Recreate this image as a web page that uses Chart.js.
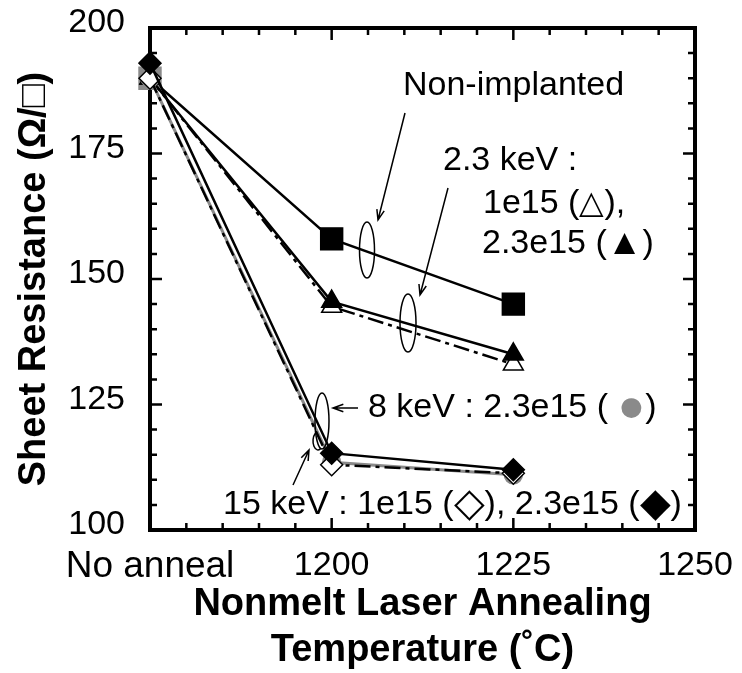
<!DOCTYPE html>
<html>
<head>
<meta charset="utf-8">
<script src="https://cdn.jsdelivr.net/npm/chart.js@4.4.1/dist/chart.umd.min.js"></script>
<style>
    body { margin: 0; background: #fff; }
    #wrap { width: 742px; height: 673px; }
</style>
</head>
<body>
<div id="wrap"><canvas id="sheet-resistance"></canvas></div>
<script>
// anneal temperatures (°C); 1175 is the "No anneal" column
const temps = [1175, 1200, 1225];
const xTicks = [1175, 1200, 1225, 1250];
const yTicks = [100, 125, 150, 175, 200];

// sheet resistance, ohm/sq
const nonImplanted = [190, 158, 145];
const kev23_1e15 = [190, 144.5, 133];
const kev23_23e15 = [190, 145.5, 135];
const kev8_23e15 = [190, 113.5, 111];
const kev15_1e15 = [190, 113, 111.3];
const kev15_23e15 = [193, 115.3, 112];

const FONT = '"Liberation Sans", Arial, Helvetica, sans-serif';

const toPoints = (values) => temps.map((t, i) => ({ x: t, y: values[i] }));

// box round the plot with inward major/minor ticks on all four sides
const frameTicks = {
    id: 'frameTicks',
    beforeDatasetsDraw(chart) {
        const { ctx, chartArea: a, scales: { x, y } } = chart;
        ctx.save();
        ctx.strokeStyle = '#000';
        ctx.lineWidth = 2.5;
        ctx.beginPath();
        for (let v = x.min; v <= x.max; v += 5) {
            const px = x.getPixelForValue(v);
            const len = (v - x.min) % 25 === 0 ? 12 : 7;
            ctx.moveTo(px, a.bottom); ctx.lineTo(px, a.bottom - len);
            ctx.moveTo(px, a.top); ctx.lineTo(px, a.top + len);
        }
        for (let v = y.min; v <= y.max; v += 5) {
            const py = y.getPixelForValue(v);
            const len = (v - y.min) % 25 === 0 ? 12 : 7;
            ctx.moveTo(a.left, py); ctx.lineTo(a.left + len, py);
            ctx.moveTo(a.right, py); ctx.lineTo(a.right - len, py);
        }
        ctx.stroke();
        ctx.lineWidth = 4;
        ctx.strokeRect(a.left, a.top, a.right - a.left, a.bottom - a.top);
        ctx.restore();
    }
};

const arrow = (ctx, x1, y1, x2, y2) => {
    const ang = Math.atan2(y2 - y1, x2 - x1);
    ctx.beginPath();
    ctx.moveTo(x1, y1);
    ctx.lineTo(x2, y2);
    ctx.moveTo(x2 - 11 * Math.cos(ang - 0.35), y2 - 11 * Math.sin(ang - 0.35));
    ctx.lineTo(x2, y2);
    ctx.lineTo(x2 - 11 * Math.cos(ang + 0.35), y2 - 11 * Math.sin(ang + 0.35));
    ctx.stroke();
};

const ellipse = (ctx, cx, cy, rx, ry, a0 = 0, a1 = Math.PI * 2) => {
    ctx.beginPath();
    ctx.ellipse(cx, cy, rx, ry, 0, a0, a1);
    ctx.stroke();
};

// text pieces drawn left to right, each with its own colour / size
const label = (ctx, x, y, parts) => {
    parts.forEach(([text, color, size]) => {
        ctx.font = (size || 34) + 'px ' + FONT;
        ctx.fillStyle = color || '#000';
        ctx.fillText(text, x, y);
        x += ctx.measureText(text).width;
    });
};

const callouts = {
    id: 'callouts',
    afterDatasetsDraw(chart) {
        const ctx = chart.ctx;
        ctx.save();
        ctx.textBaseline = 'middle';
        ctx.textAlign = 'left';
        label(ctx, 403, 86, [['Non-implanted']]);
        label(ctx, 443, 161, [['2.3 keV :']]);
        label(ctx, 483, 204, [['1e15 ('], ['\u25B3', null, 32], ['),']]);
        label(ctx, 482, 244, [['2.3e15 ('], ['\u25B2', null, 36], [')']]);
        label(ctx, 368, 408, [['8 keV : 2.3e15 ( '], ['\u25CF', '#8a8a8a', 46], [')']]);
        label(ctx, 223, 505, [['15 keV : 1e15 ('], ['\u25C7', null, 40], ['), 2.3e15 ('], ['\u25C6', null, 40], [')']]);

        ctx.strokeStyle = '#000';
        ctx.lineWidth = 1.5;
        arrow(ctx, 405, 113, 378, 220);
        arrow(ctx, 448, 188, 420, 295);
        arrow(ctx, 358, 408, 333, 408);
        arrow(ctx, 293, 485, 309, 450);
        ellipse(ctx, 367, 250, 7.5, 28);
        ellipse(ctx, 408, 323, 8, 29);
        ellipse(ctx, 322, 421, 7, 28);
        ellipse(ctx, 318, 441, 5, 9, Math.PI * 0.3, Math.PI * 1.4);
        ctx.restore();
    }
};

const series = (data, opts) => Object.assign({
    data: toPoints(data),
    borderColor: '#000',
    borderWidth: 2.5,
    pointBorderColor: '#000',
    pointBorderWidth: 1.5,
    pointBackgroundColor: '#000',
    clip: false
}, opts);

const dashDot = [16, 5, 4, 5];

document.addEventListener("DOMContentLoaded", () => {
    const ctx = document.getElementById('sheet-resistance').getContext('2d');
    new Chart(ctx, {
        type: 'line',
        data: {
            // first dataset is drawn on top
            datasets: [
                series(kev15_23e15, { label: '15 keV 2.3e15', pointStyle: 'rectRot', pointRadius: 11 }),
                series(kev15_1e15, { label: '15 keV 1e15', pointStyle: 'rectRot', pointRadius: 11,
                    pointBackgroundColor: '#fff', borderDash: dashDot }),
                series(kev8_23e15, { label: '8 keV 2.3e15', pointStyle: 'circle', pointRadius: 9,
                    borderColor: '#8a8a8a', pointBorderColor: '#8a8a8a', pointBackgroundColor: '#8a8a8a', borderWidth: 3 }),
                series(kev23_23e15, { label: '2.3 keV 2.3e15', pointStyle: 'triangle', pointRadius: 11.5 }),
                series(kev23_1e15, { label: '2.3 keV 1e15', pointStyle: 'triangle', pointRadius: 11.5,
                    pointBackgroundColor: '#fff', borderDash: dashDot }),
                series(nonImplanted, { label: 'Non-implanted', pointStyle: 'rect', pointRadius: 15.5,
                    pointBackgroundColor: ['#8a8a8a', '#000', '#000'], pointBorderColor: ['#8a8a8a', '#000', '#000'] })
            ]
        },
        options: {
            responsive: true,
            maintainAspectRatio: false,
            animation: false,
            layout: { padding: { top: 28, right: 47, left: 0, bottom: 0 } },
            plugins: {
                legend: { display: false },
                tooltip: { enabled: false }
            },
            scales: {
                x: {
                    type: 'linear',
                    min: 1175,
                    max: 1250,
                    grid: { display: false },
                    border: { display: false },
                    afterBuildTicks: (scale) => { scale.ticks = xTicks.map(v => ({ value: v })); },
                    afterFit: (scale) => {
                        scale.height = 143;
                        scale.paddingLeft = 0;
                        scale.paddingRight = 0;
                    },
                    ticks: {
                        padding: 7,
                        maxRotation: 0,
                        autoSkip: false,
                        color: '#000',
                        font: (c) => ({ family: FONT, size: c.tick && c.tick.value === 1175 ? 37 : 34 }),
                        callback: (value) => value === 1175 ? 'No anneal' : String(value)
                    },
                    title: {
                        display: true,
                        text: ['Nonmelt Laser Annealing', 'Temperature (\u02DAC)'],
                        color: '#000',
                        padding: 0,
                        font: { family: FONT, size: 38, weight: 'bold' }
                    }
                },
                y: {
                    min: 100,
                    max: 200,
                    grid: { display: false },
                    border: { display: false },
                    afterBuildTicks: (scale) => { scale.ticks = yTicks.map(v => ({ value: v })); },
                    afterFit: (scale) => {
                        scale.width = 150;
                        scale.paddingTop = 0;
                        scale.paddingBottom = 0;
                    },
                    ticks: {
                        padding: 17,
                        labelOffset: -5,
                        color: '#000',
                        font: { family: FONT, size: 34 }
                    },
                    title: {
                        display: true,
                        text: 'Sheet Resistance (\u03A9/\u25A1)',
                        color: '#000',
                        padding: { top: 12, bottom: 0 },
                        font: { family: FONT, size: 38, weight: 'bold' }
                    }
                }
            }
        },
        plugins: [frameTicks, callouts]
    });
});
</script>
</body>
</html>
